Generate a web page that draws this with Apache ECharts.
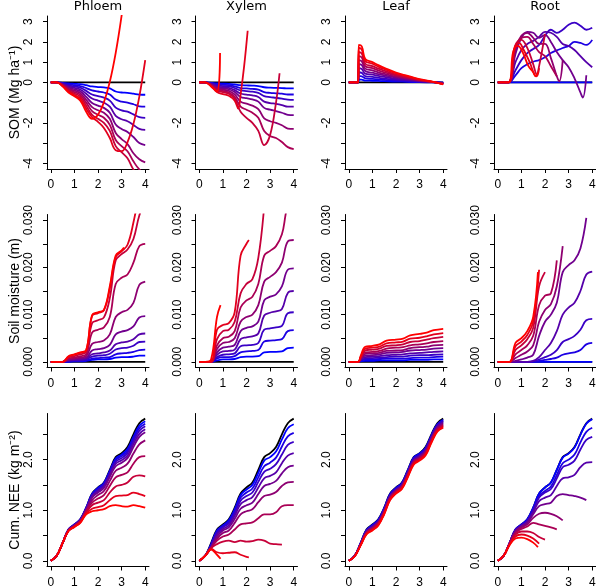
<!DOCTYPE html>
<html><head><meta charset="utf-8">
<script src="https://cdn.jsdelivr.net/npm/echarts@6/dist/echarts.min.js"></script>
<style>html,body{margin:0;padding:0;background:#fff}#c{width:596px;height:587px}</style>
</head><body><div id="c"></div>
<script>
// ---------------- DATA ----------------
const G = [0,0.25,0.5,0.75,1,1.25,1.5,1.75,2,2.25,2.5,2.75,3,3.25,3.5,3.75,4];
const panelTitles = ['Phloem','Xylem','Leaf','Root'];
const rowNames = ['SOM (Mg ha\u207B\u00B9)','Soil moisture (m)','Cum. NEE (kg m\u207B\u00B2)'];
const xTicks = [0,1,2,3,4];
const somTicks = [-4,-3,-2,-1,0,1,2,3];
const somLabels = [-4,-2,0,1,2,3];
const smTicks = [0,0.005,0.01,0.015,0.02,0.025,0.03];
const smLabels = [0,0.01,0.02,0.03];
const neeTicks = [0,0.5,1,1.5,2,2.5];
const neeLabels = [0,1,2];

const baseline = [[0,0],[4,0]];
const controlNEE = [0,0.1,0.35,0.62,0.72,0.82,1.05,1.33,1.45,1.55,1.8,2.05,2.13,2.25,2.5,2.72,2.81];

// --- SOM row ---
const phloemSOM = [
 [0,0,-0.02,-0.05,-0.07,-0.09,-0.14,-0.2,-0.23,-0.25,-0.3,-0.45,-0.5,-0.52,-0.56,-0.6,-0.61],
 [0,0,-0.04,-0.1,-0.14,-0.18,-0.28,-0.4,-0.45,-0.5,-0.6,-0.85,-0.95,-1.0,-1.08,-1.18,-1.2],
 [0,0,-0.06,-0.15,-0.2,-0.26,-0.42,-0.6,-0.68,-0.75,-0.9,-1.25,-1.38,-1.45,-1.58,-1.72,-1.75],
 [0,0,-0.08,-0.2,-0.27,-0.35,-0.56,-0.8,-0.9,-1.0,-1.2,-1.65,-1.82,-1.92,-2.1,-2.3,-2.35],
 [0,0,-0.1,-0.25,-0.34,-0.44,-0.72,-1.02,-1.15,-1.26,-1.5,-2.08,-2.3,-2.45,-2.7,-3.0,-3.1],
 [0,0,-0.12,-0.3,-0.41,-0.53,-0.86,-1.22,-1.38,-1.5,-1.8,-2.5,-2.8,-3.05,-3.5,-3.8,-3.95],
 [0,0,-0.14,-0.35,-0.48,-0.62,-1.0,-1.42,-1.6,-1.75,-2.1,-2.85,-3.15,-3.4,-3.9,-4.3,-4.5],
 [0,0,-0.16,-0.4,-0.55,-0.7,-1.15,-1.6,-1.8,-2.0,-2.4,-3.15,-3.45,-3.75,-4.3,-4.6,-4.8],
 [0,0,-0.18,-0.45,-0.62,-0.8,-1.3,-1.72,-1.95,-2.25,-2.75,-3.35,-3.4,-2.95,-2.06,-0.7,1.1],
 [0,0,-0.2,-0.5,-0.68,-0.9,-1.45,-1.8,-1.6,-0.98,0.03,1.46,3.3,5.5]
];
const xylemSOM = [
 [0,0,-0.02,-0.05,-0.06,-0.07,-0.1,-0.14,-0.15,-0.16,-0.18,-0.24,-0.26,-0.27,-0.28,-0.3,-0.3],
 [0,0,-0.04,-0.1,-0.12,-0.14,-0.2,-0.28,-0.3,-0.32,-0.36,-0.48,-0.52,-0.54,-0.56,-0.6,-0.6],
 [0,0,-0.06,-0.15,-0.18,-0.2,-0.28,-0.4,-0.43,-0.46,-0.52,-0.68,-0.73,-0.76,-0.8,-0.85,-0.86],
 [0,0,-0.08,-0.2,-0.24,-0.27,-0.38,-0.55,-0.6,-0.64,-0.72,-0.95,-1.02,-1.06,-1.12,-1.2,-1.2],
 [0,0,-0.1,-0.25,-0.3,-0.34,-0.48,-0.72,-0.78,-0.84,-0.95,-1.26,-1.35,-1.42,-1.5,-1.6,-1.62],
 [0,0,-0.12,-0.3,-0.36,-0.42,-0.6,-0.95,-1.05,-1.15,-1.32,-1.78,-1.92,-2.0,-2.12,-2.28,-2.3],
 [0,0,-0.14,-0.35,-0.42,-0.5,-0.72,-1.2,-1.35,-1.5,-1.75,-2.4,-2.65,-2.75,-2.95,-3.2,-3.3],
 [0,0,-0.16,-0.4,-0.48,-0.56,-0.82,-1.45,-1.75,-2.0,-2.4,-3.1,-2.6,[3.25,-1.0],[3.4,0.45]],
 [0,0,-0.18,-0.48,-0.58,-0.66,-0.9,[1.65,-1.3],[1.75,-0.6],[1.9,0.8],[2.05,2.55]],
 [0,0,-0.2,-0.45,[0.88,1.45]]
];
const leafSomX = [0,0.4,0.42,0.55,0.7,1.0,1.25,1.5,2.0,2.5,3.0,3.5,4.0];
const leafSOM = [
 [0,0,0.15,0.14,0.09,0.08,0.07,0.06,0.04,0.03,0.01,0,-0.01],
 [0,0,0.32,0.3,0.2,0.17,0.15,0.12,0.08,0.05,0.03,0.01,-0.02],
 [0,0,0.5,0.47,0.31,0.27,0.23,0.19,0.13,0.09,0.04,0.01,-0.03],
 [0,0,0.7,0.66,0.43,0.38,0.32,0.27,0.18,0.12,0.06,0.02,-0.04],
 [0,0,0.9,0.85,0.56,0.48,0.41,0.35,0.23,0.15,0.08,0.02,-0.05],
 [0,0,1.1,1.04,0.68,0.59,0.5,0.42,0.28,0.19,0.09,0.03,-0.06],
 [0,0,1.3,1.23,0.8,0.7,0.59,0.5,0.33,0.22,0.11,0.03,-0.07],
 [0,0,1.5,1.42,0.92,0.8,0.68,0.58,0.38,0.25,0.12,0.04,-0.08],
 [0,0,1.72,1.62,1.05,0.92,0.78,0.66,0.44,0.29,0.14,0.04,-0.09],
 [0,0,1.85,1.78,1.15,1.0,0.85,0.72,0.48,0.32,0.16,0.05,-0.1]
];
const rootSOM = [
 [[0,0],[4,0]],
 [[0,0],[0.45,0],[0.75,0.35],[1.0,0.7],[1.25,0.9],[1.5,1.02],[1.75,1.1],[2.0,1.24],[2.25,1.45],[2.5,1.58],[2.75,1.7],[3.0,1.8],[3.25,2.0],[3.5,1.95],[3.75,1.85],[4.0,2.1]],
 [[0,0],[0.45,0],[0.75,0.6],[1.0,1.1],[1.25,1.45],[1.5,1.65],[1.75,1.85],[2.0,2.3],[2.25,2.6],[2.5,2.45],[2.75,2.6],[3.0,2.85],[3.25,2.95],[3.5,2.8],[3.75,2.6],[4.0,2.7]],
 [[0,0],[0.45,0],[0.75,1.0],[1.0,1.6],[1.25,1.9],[1.5,2.05],[1.75,2.25],[2.0,2.5],[2.25,2.45],[2.5,2.25],[2.75,1.9],[3.0,1.8],[3.25,1.6],[3.5,1.3],[3.75,1.0],[4.0,0.75]],
 [[0,0],[0.45,0],[0.75,1.4],[1.0,2.2],[1.25,2.5],[1.5,2.45],[1.75,2.2],[2.0,2.35],[2.25,2.0],[2.5,1.5],[2.75,1.1],[3.0,0.75],[3.25,0.2],[3.5,-0.5],[3.6,-0.75],[3.75,0.35]],
 [[0,0],[0.45,0],[0.75,1.6],[1.0,2.3],[1.25,2.45],[1.5,2.2],[1.75,1.9],[2.0,1.9],[2.25,1.2],[2.5,0.3],[2.6,0.05],[2.75,1.1]],
 [[0,0],[0.45,0],[0.75,1.75],[1.0,2.2],[1.25,2.25],[1.5,1.9],[1.75,1.5],[2.0,1.3],[2.25,0.8],[2.5,0.3]],
 [[0,0],[0.45,0],[0.75,1.85],[1.0,2.1],[1.25,1.7],[1.5,0.9],[1.65,0.4],[1.75,0.8],[2.0,2.4]],
 [[0,0],[0.45,0],[0.7,1.7],[0.9,1.95],[1.1,1.6],[1.35,1.0],[1.55,0.4],[1.65,0.3],[1.75,0.7]],
 [[0,0],[0.45,0],[0.65,1.5],[0.85,1.8],[1.05,1.5],[1.3,0.8],[1.5,0.5],[1.6,0.3],[1.7,0.5]]
];

// --- Soil moisture row ---
const phloemSM = [
 [0,0,0,0,0.0001,0.0001,0.0002,0.0004,0.0005,0.0005,0.0006,0.0009,0.001,0.001,0.0011,0.0013,0.0013],
 [0,0,0,0.0001,0.0002,0.0002,0.0003,0.0007,0.0008,0.0009,0.001,0.0016,0.0018,0.0019,0.0021,0.0025,0.0026],
 [0,0,0,0.0002,0.0003,0.0003,0.0005,0.0011,0.0013,0.0014,0.0017,0.0026,0.0029,0.003,0.0034,0.0042,0.0043],
 [0,0,0,0.0003,0.0004,0.0005,0.0007,0.0016,0.0018,0.002,0.0024,0.0037,0.0041,0.0043,0.0048,0.0058,0.006],
 [0,0,0,0.0004,0.0005,0.0007,0.0009,0.0024,0.0027,0.0029,0.0036,0.0058,0.0064,0.0067,0.0075,0.0094,0.0097],
 [0,0,0,0.0005,0.0007,0.0009,0.0012,0.0038,0.0042,0.0045,0.0058,0.0095,0.0105,0.011,0.0125,0.0163,0.017],
 [0,0,0,0.0007,0.0009,0.0012,0.0016,0.0062,0.0068,0.0073,0.0095,0.0165,0.0178,0.0185,0.021,0.0245,0.025],
 [0,0,0,0.0009,0.0012,0.0016,0.0021,0.0082,0.0088,0.0094,0.0135,0.0215,0.0228,0.0238,0.026,0.031,0.034],
 [0,0,0,0.0011,0.0015,0.0019,0.0024,0.0097,0.0103,0.0109,0.0155,0.0222,0.0234,0.0248,0.0295,0.036],
 [0,0,0,0.0012,0.0016,0.002,0.0025,0.0099,0.0105,0.011,0.016,0.0225,0.0236,[3.1,0.0242]]
];
const xylemSM = [
 [0,0,0,0.0003,0.0005,0.0005,0.0006,0.001,0.0011,0.0011,0.0012,0.002,0.0021,0.0021,0.0022,0.0029,0.003],
 [0,0,0,0.0007,0.001,0.001,0.0012,0.002,0.0022,0.0023,0.0025,0.0043,0.0045,0.0046,0.0048,0.0065,0.0067],
 [0,0,0,0.001,0.0015,0.0016,0.0018,0.0033,0.0035,0.0036,0.004,0.0068,0.0071,0.0073,0.0076,0.0103,0.0105],
 [0,0,0,0.0015,0.0022,0.0023,0.0026,0.0048,0.0052,0.0054,0.006,0.0098,0.0104,0.0107,0.0112,0.0146,0.015],
 [0,0,0,0.002,0.003,0.0032,0.0036,0.0065,0.0072,0.0075,0.0085,0.013,0.0138,0.0143,0.016,0.0195,0.0198],
 [0,0,0,0.0027,0.004,0.0042,0.005,0.0085,0.0095,0.01,0.012,0.017,0.018,0.019,0.021,0.0255,0.0258],
 [0,0,0,0.0035,0.005,0.0053,0.0065,0.0115,0.013,0.0138,0.0165,0.0225,0.0235,0.0245,0.027,[3.65,0.031],[3.75,0.034]],
 [0,0,0,0.0048,0.0065,0.0068,0.0085,0.0145,0.0165,0.0175,0.022,0.033],
 [0,0,0,0.0068,0.0078,0.0082,0.0105,0.0225,0.025,[2.1,0.0258]],
 [0,0,0.0005,0.0095,[0.9,0.012]]
];
const leafSmX = [0,0.4,0.5,0.7,1.0,1.3,1.6,2.0,2.3,2.6,3.0,3.3,3.6,4.0];
const leafSM = [
 [0,0,0.0001,0.0002,0.0002,0.0003,0.0003,0.0003,0.0003,0.0004,0.0004,0.0004,0.0005,0.0005],
 [0,0,0.0002,0.0005,0.0005,0.0006,0.0007,0.0007,0.0007,0.0008,0.0009,0.0009,0.001,0.0011],
 [0,0,0.0003,0.0007,0.0008,0.0009,0.001,0.0011,0.0011,0.0013,0.0014,0.0014,0.0015,0.0016],
 [0,0,0.0004,0.001,0.0011,0.0012,0.0014,0.0015,0.0016,0.0018,0.0019,0.002,0.0021,0.0022],
 [0,0,0.0005,0.0013,0.0014,0.0016,0.0019,0.002,0.0021,0.0024,0.0025,0.0026,0.0028,0.0029],
 [0,0,0.0006,0.0017,0.0018,0.0019,0.0023,0.0024,0.0025,0.0029,0.0031,0.0032,0.0035,0.0036],
 [0,0,0.0008,0.002,0.0021,0.0023,0.0028,0.003,0.0031,0.0035,0.0037,0.0039,0.0042,0.0044],
 [0,0,0.0009,0.0024,0.0026,0.0028,0.0034,0.0035,0.0037,0.0042,0.0044,0.0047,0.005,0.0053],
 [0,0,0.001,0.0028,0.003,0.0032,0.0039,0.0041,0.0043,0.0049,0.0051,0.0054,0.0058,0.0061],
 [0,0,0.0012,0.0032,0.0034,0.0037,0.0045,0.0047,0.0049,0.0056,0.0059,0.0062,0.0067,0.007]
];
const rootSM = [
 [[0,0],[4,0]],
 [0,0,0,0,0,0,0,0.0002,0.0004,0.0006,0.0009,0.0015,0.0018,0.002,0.0025,0.0037,0.004],
 [0,0,0,0,0,0,0.0001,0.0005,0.001,0.0015,0.0025,0.0042,0.0048,0.0055,0.0068,0.0088,0.0091],
 [0,0,0,0,0,0,0.0002,0.001,0.0025,0.004,0.0065,0.01,0.0115,0.0125,0.015,0.0185,0.0191],
 [0,0,0,0.0002,0.0005,0.0009,0.0015,0.0055,0.0085,0.01,0.0125,0.019,0.0205,0.0215,0.024,0.0305],
 [0,0,0,0.0008,0.0015,0.0022,0.0035,0.0085,0.011,0.0122,0.016,[2.75,0.0245]],
 [0,0,0,0.0016,0.0025,0.0035,0.0055,0.012,0.014,0.0145,[2.5,0.0215]],
 [0,0,0,0.0025,0.0035,0.0048,0.0072,0.016,[2.0,0.019]],
 [0,0,0,0.0033,0.0043,0.0057,0.0085,[1.75,0.0195]],
 [0,0,0,0.004,0.005,0.0065,0.0095,[1.7,0.019]]
];

// --- Cumulative NEE row ---
const phloemNEE = [
 [0,0.1,0.35,0.62,0.72,0.82,1.05,1.32,1.44,1.54,1.78,2.02,2.1,2.21,2.45,2.67,2.76],
 [0,0.1,0.35,0.62,0.71,0.81,1.04,1.31,1.42,1.52,1.76,1.99,2.07,2.17,2.41,2.62,2.71],
 [0,0.1,0.35,0.61,0.71,0.81,1.03,1.29,1.4,1.5,1.73,1.96,2.03,2.13,2.36,2.57,2.66],
 [0,0.1,0.35,0.61,0.7,0.8,1.02,1.27,1.38,1.47,1.7,1.92,1.99,2.08,2.31,2.51,2.6],
 [0,0.1,0.35,0.61,0.7,0.8,1.01,1.25,1.35,1.44,1.66,1.87,1.94,2.03,2.25,2.45,2.54],
 [0,0.1,0.35,0.6,0.69,0.79,1.0,1.2,1.3,1.38,1.58,1.78,1.84,1.92,2.12,2.3,2.38],
 [0,0.1,0.35,0.6,0.69,0.78,0.98,1.15,1.23,1.3,1.48,1.65,1.7,1.75,1.92,2.05,2.07],
 [0,0.1,0.35,0.6,0.68,0.77,0.96,1.1,1.15,1.2,1.35,1.47,1.5,1.55,1.66,1.69,1.67],
 [0,0.1,0.35,0.59,0.67,0.76,0.94,1.03,1.06,1.1,1.2,1.28,1.29,1.3,1.35,1.32,1.28],
 [0,0.1,0.35,0.59,0.67,0.75,0.92,0.98,1.0,1.02,1.08,1.1,1.08,1.07,1.1,1.08,1.05]
];
const xylemNEE = [
 [0,0.1,0.33,0.6,0.7,0.8,1.02,1.3,1.41,1.5,1.74,1.98,2.05,2.16,2.4,2.62,2.7],
 [0,0.1,0.31,0.58,0.68,0.77,0.98,1.25,1.35,1.43,1.65,1.87,1.94,2.04,2.26,2.46,2.53],
 [0,0.1,0.29,0.55,0.66,0.74,0.94,1.19,1.28,1.35,1.56,1.76,1.82,1.91,2.1,2.29,2.35],
 [0,0.1,0.28,0.52,0.63,0.7,0.89,1.12,1.2,1.26,1.45,1.63,1.68,1.75,1.93,2.08,2.13],
 [0,0.1,0.27,0.48,0.6,0.66,0.83,1.03,1.1,1.15,1.32,1.48,1.52,1.58,1.73,1.85,1.88],
 [0,0.1,0.26,0.44,0.55,0.6,0.75,0.92,0.98,1.02,1.16,1.28,1.31,1.36,1.48,1.55,1.56],
 [0,0.1,0.25,0.4,0.48,0.52,0.62,0.72,0.74,0.76,0.84,0.92,0.92,0.96,1.08,1.1,1.1],
 [0,0.1,0.25,0.33,0.38,0.4,0.37,0.4,0.38,0.39,0.42,0.4,0.34,0.33,0.32],
 [0,0.1,0.24,0.17,0.15,0.16,0.17,0.12,0.08,[2.1,0.07]],
 [0,0.1,0.22,0.12,[0.9,0.04]]
];
const leafNEE = [
 [0,0.1,0.35,0.61,0.71,0.81,1.04,1.32,1.44,1.54,1.79,2.04,2.12,2.23,2.48,2.7,2.79],
 [0,0.1,0.34,0.6,0.7,0.8,1.02,1.3,1.43,1.52,1.77,2.02,2.1,2.22,2.47,2.69,2.77],
 [0,0.1,0.34,0.59,0.68,0.78,1.01,1.29,1.41,1.51,1.76,2.01,2.09,2.2,2.45,2.67,2.76],
 [0,0.1,0.33,0.58,0.67,0.77,1.0,1.28,1.4,1.5,1.74,1.99,2.07,2.18,2.43,2.65,2.74],
 [0,0.1,0.33,0.57,0.66,0.76,0.99,1.27,1.39,1.49,1.73,1.98,2.06,2.17,2.42,2.64,2.72],
 [0,0.09,0.32,0.56,0.65,0.75,0.97,1.25,1.38,1.47,1.71,1.96,2.04,2.15,2.4,2.62,2.7],
 [0,0.09,0.32,0.55,0.64,0.74,0.96,1.24,1.37,1.46,1.7,1.95,2.03,2.13,2.38,2.6,2.68],
 [0,0.09,0.31,0.54,0.62,0.72,0.95,1.23,1.35,1.45,1.68,1.93,2.01,2.11,2.36,2.58,2.67],
 [0,0.09,0.31,0.53,0.61,0.71,0.93,1.21,1.34,1.43,1.67,1.92,2.0,2.1,2.35,2.57,2.65],
 [0,0.09,0.3,0.52,0.6,0.7,0.92,1.2,1.33,1.42,1.65,1.9,1.98,2.08,2.33,2.55,2.63]
];
const rootNEE = [
 [0,0.1,0.35,0.62,0.72,0.82,1.05,1.33,1.45,1.55,1.8,2.04,2.12,2.24,2.49,2.71,2.8],
 [0,0.1,0.35,0.62,0.71,0.8,1.02,1.28,1.38,1.47,1.7,1.93,2.0,2.1,2.34,2.55,2.63],
 [0,0.1,0.35,0.61,0.7,0.79,1.0,1.25,1.35,1.42,1.63,1.85,1.9,1.98,2.2,2.39,2.45],
 [0,0.1,0.35,0.6,0.69,0.77,0.96,1.18,1.25,1.3,1.48,1.63,1.65,1.7,1.85,1.94,1.95],
 [0,0.1,0.35,0.59,0.68,0.75,0.92,1.08,1.12,1.15,1.28,1.32,1.3,1.28,1.25,1.2],
 [0,0.1,0.34,0.57,0.66,0.72,0.85,0.93,0.95,0.93,0.88,0.8],
 [0,0.1,0.34,0.55,0.63,0.68,0.75,0.72,0.69,0.66,0.62],
 [0,0.1,0.33,0.52,0.58,0.58,0.55,0.47,0.42],
 [0,0.1,0.32,0.48,0.52,0.5,0.44,0.34],
 [0,0.1,0.31,0.44,0.46,0.43,0.36,[1.7,0.27]]
];

// ---------------- LAYOUT / BUILD ----------------
const colLeft = [47, 195.5, 345, 494];
const rowTop = [16, 214.5, 413.5];
const PW = 102, PH = 153;
const FONT = '"Liberation Sans Narrow", "Liberation Sans", Arial, sans-serif';
const LW = 1.8;
const SM = 0.4;

const rowCfg = [
  {min:-4.28, max:3.28, ticks:somTicks, labels:somLabels, fmt:v=>String(v)},
  {min:-0.0012, max:0.0312, ticks:smTicks, labels:smLabels, fmt:v=>v.toFixed(3)},
  {min:-0.112, max:2.912, ticks:neeTicks, labels:neeLabels, fmt:v=>v.toFixed(1)}
];
const panels = [
  [{lines:phloemSOM,xs:G,black:baseline},{lines:xylemSOM,xs:G,black:baseline},{lines:leafSOM,xs:leafSomX,black:baseline},{lines:rootSOM,xs:G,black:baseline}],
  [{lines:phloemSM,xs:G,black:baseline},{lines:xylemSM,xs:G,black:baseline},{lines:leafSM,xs:leafSmX,black:baseline},{lines:rootSM,xs:G,black:baseline}],
  [{lines:phloemNEE,xs:G,black:controlNEE},{lines:xylemNEE,xs:G,black:controlNEE},{lines:leafNEE,xs:G,black:controlNEE},{lines:rootNEE,xs:G,black:controlNEE}]
];

function pts(line, xs){ return line.map((v,i)=> Array.isArray(v) ? v : [xs[i], v]); }
function col(k,n){ const t = k/(n-1); return 'rgb('+Math.round(255*t)+',0,'+Math.round(255*(1-t))+')'; }

const grids=[], xAxes=[], yAxes=[], series=[];
let idx=0;
for (let r=0;r<3;r++){
  for (let c=0;c<4;c++){
    const p = panels[r][c], cfg = rowCfg[r];
    grids.push({left:colLeft[c], top:rowTop[r], width:PW, height:PH, show:false, containLabel:false, outerBoundsMode:'none'});
    xAxes.push({type:'value', gridIndex:idx, min:-0.16, max:4.16,
      axisLine:{show:true, onZero:false, lineStyle:{color:'#000', width:1}},
      axisTick:{show:true, length:4, customValues:xTicks, lineStyle:{color:'#000', width:1}},
      axisLabel:{customValues:xTicks, color:'#000', fontSize:12, fontFamily:FONT, margin:10, formatter:v=>String(v)},
      splitLine:{show:false}});
    const ya = {type:'value', gridIndex:idx, min:cfg.min, max:cfg.max,
      axisLine:{show:true, onZero:false, lineStyle:{color:'#000', width:1}},
      axisTick:{show:true, length:4, customValues:cfg.ticks, lineStyle:{color:'#000', width:1}},
      axisLabel:{customValues:cfg.labels, rotate:90, color:'#000', fontSize:12, fontFamily:FONT, margin:12, formatter:cfg.fmt},
      splitLine:{show:false}};
    if (c===0){
      ya.name = rowNames[r]; ya.nameLocation='middle'; ya.nameGap=25; ya.nameRotate=90;
      ya.nameTextStyle={fontSize:14, color:'#000', fontFamily:'"Liberation Sans", Arial, sans-serif'};
    }
    yAxes.push(ya);
    const blk = Array.isArray(p.black[0]) ? p.black : pts(p.black, G);
    series.push({type:'line', xAxisIndex:idx, yAxisIndex:idx, data:blk, symbol:'none', silent:true,
      smooth:SM, lineStyle:{color:'#000', width:LW}});
    const n = p.lines.length;
    p.lines.forEach((ln,k)=>{
      series.push({type:'line', xAxisIndex:idx, yAxisIndex:idx, data:pts(ln,p.xs), symbol:'none', silent:true,
        smooth:SM, lineStyle:{color:col(k,n), width:LW}});
    });
    idx++;
  }
}
const graphics = panelTitles.map((t,c)=>({type:'text', x:colLeft[c]+PW/2, y:7, silent:true,
  style:{text:t, fill:'#000', fontSize:13, fontFamily:'"DejaVu Sans", sans-serif', align:'center', verticalAlign:'middle', textAlign:'center', textVerticalAlign:'middle'}}));

const chart = echarts.init(document.getElementById('c'), null, {renderer:'canvas'});
chart.setOption({animation:false, backgroundColor:'#fff', grid:grids, xAxis:xAxes, yAxis:yAxes, series:series, graphic:graphics});
</script></body></html>
